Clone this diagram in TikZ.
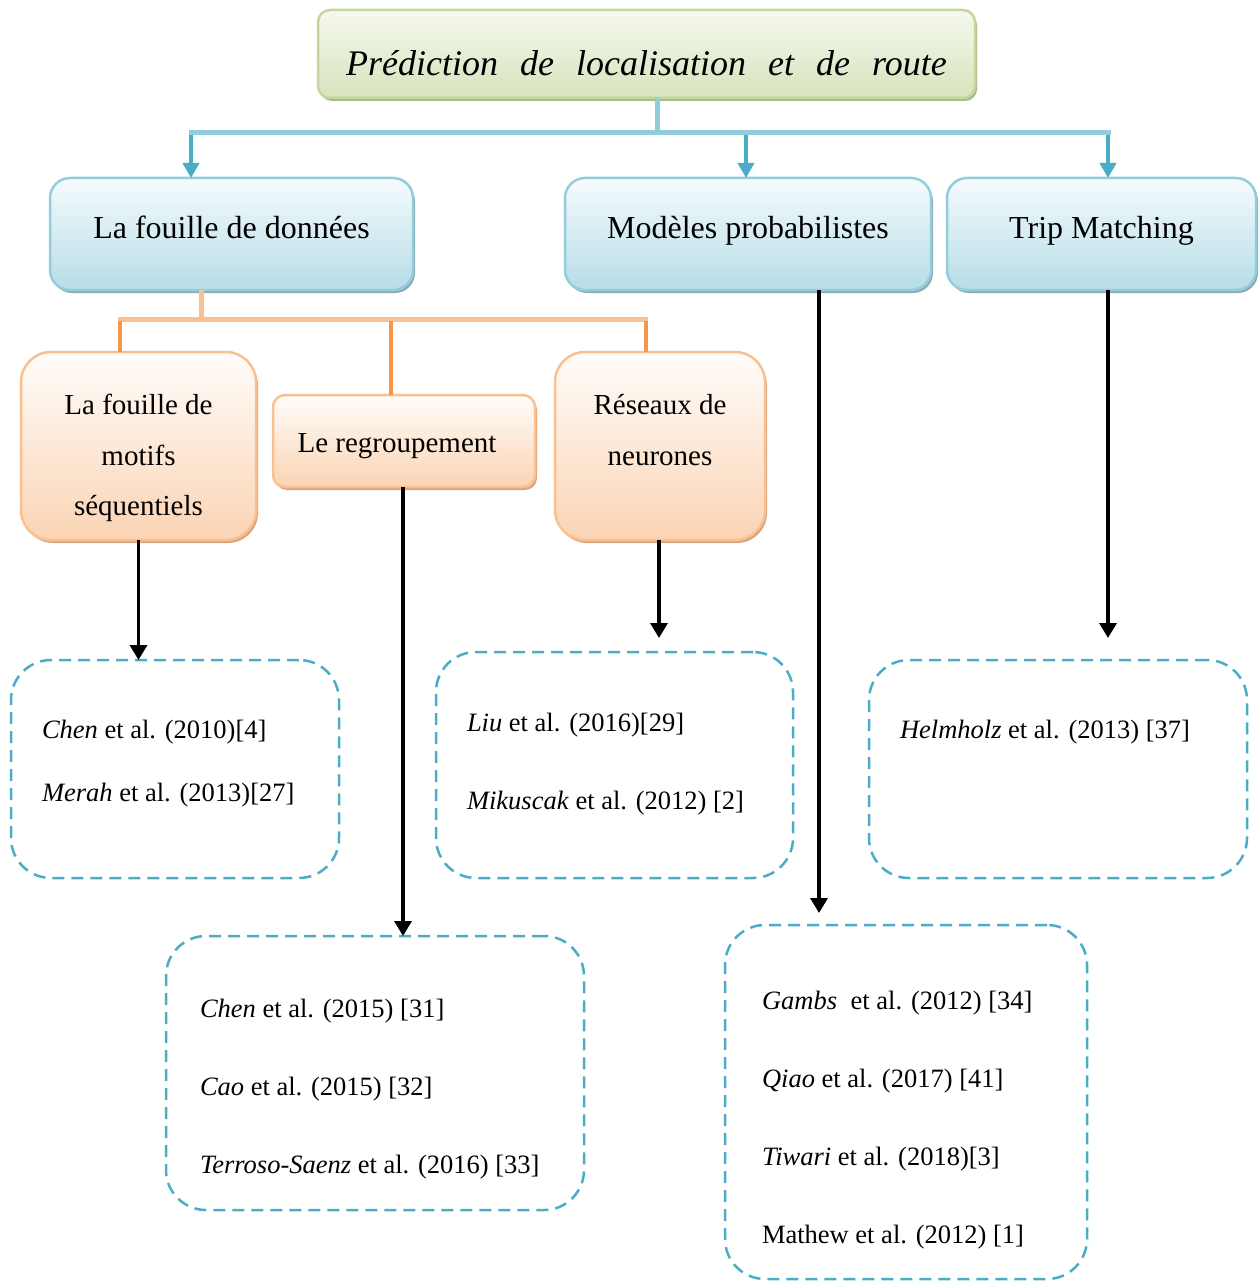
\documentclass[tikz,border=0pt]{standalone}
\usepackage{fontspec}
\setmainfont{Liberation Serif}
\usetikzlibrary{arrows.meta,shadows,calc}

\definecolor{grnline}{HTML}{C3D69B}
\definecolor{grntop}{HTML}{F6F9F0}
\definecolor{grnbot}{HTML}{D6E3BC}
\definecolor{grnshadow}{HTML}{A7B88A}
\definecolor{bluline}{HTML}{92CDDC}
\definecolor{blutop}{HTML}{F6FBFD}
\definecolor{blubot}{HTML}{B6DDE8}
\definecolor{blushadow}{HTML}{8EAAB5}
\definecolor{bludark}{HTML}{4BACC6}
\definecolor{orgline}{HTML}{FAC090}
\definecolor{orgtop}{HTML}{FFFDFB}
\definecolor{orgbot}{HTML}{FBD4B4}
\definecolor{orgshadow}{HTML}{D8A582}
\definecolor{orgdark}{HTML}{F79646}

\begin{document}
\begin{tikzpicture}[x=1pt,y=-1pt,
  every node/.style={inner sep=0pt, outer sep=0pt},
  greenbox/.style={draw=grnline, line width=2.5pt, rounded corners=12pt,
    top color=grntop, bottom color=grnbot,
    drop shadow={shadow xshift=2pt, shadow yshift=-3pt, fill=grnshadow, opacity=1}},
  bluebox/.style={draw=bluline, line width=2.5pt, rounded corners=20pt,
    top color=blutop, bottom color=blubot,
    drop shadow={shadow xshift=2pt, shadow yshift=-3pt, fill=blushadow, opacity=1}},
  orangebox/.style={draw=orgline, line width=2.5pt, rounded corners=#1,
    top color=orgtop, bottom color=orgbot,
    drop shadow={shadow xshift=2pt, shadow yshift=-3pt, fill=orgshadow, opacity=1}},
  refbox/.style={draw=bludark, line width=2.5pt, rounded corners=40pt,
    dash pattern=on 12pt off 7pt},
  titletext/.style={anchor=base, font=\fontsize{36}{40}\selectfont\itshape},
  bluetext/.style={anchor=base, font=\fontsize{32}{38}\selectfont},
  orgtext/.style={anchor=base, font=\fontsize{29}{34}\selectfont},
  reftext/.style={anchor=base west, font=\fontsize{26.5}{32}\selectfont},
  bluebar/.style={draw=bluline, line width=5pt},
  bluearrow/.style={draw=bludark, line width=4.5pt, -{Triangle[width=16pt,length=15pt]}},
  orgbar/.style={draw=orgline, line width=5pt},
  orgdrop/.style={draw=orgdark, line width=4pt},
  blackarrow/.style={draw=black, line width=3.5pt, -{Triangle[width=17pt,length=15pt]}}
]
\useasboundingbox (0,0) rectangle (1258,1281);

% ---- top level ----
\node[greenbox, minimum width=657pt, minimum height=88pt] (title) at (646.5,54) {};
\node[titletext] (titlelbl) at (646.5,76)
  {Prédiction\hspace{22pt}de\hspace{22pt}localisation\hspace{22pt}et\hspace{22pt}de\hspace{22pt}route};

% ---- second level ----
\node[bluebox, minimum width=363pt, minimum height=112pt] (b1) at (231.5,234) {};
\node[bluebox, minimum width=366pt, minimum height=112pt] (b2) at (748,234) {};
\node[bluebox, minimum width=309pt, minimum height=112pt] (b3) at (1101.5,234) {};
\node[bluetext] (b1lbl) at (231.5,239) {La fouille de données};
\node[bluetext] (b2lbl) at (748,239) {Modèles probabilistes};
\node[bluetext] (b3lbl) at (1101.5,239) {Trip Matching};

% ---- data mining branches ----
\node[orangebox=30pt, minimum width=235pt, minimum height=188pt] (o1) at (138.5,446) {};
\node[orangebox=12pt, minimum width=262pt, minimum height=92pt] (o2) at (404,441) {};
\node[orangebox=30pt, minimum width=210pt, minimum height=188pt] (o3) at (660,446) {};
\node[orgtext] (o1a) at (138.5,414) {La fouille de};
\node[orgtext] (o1b) at (138.5,465) {motifs};
\node[orgtext] (o1c) at (138.5,515) {séquentiels};
\node[orgtext] (o2a) at (397,452) {Le regroupement};
\node[orgtext] (o3a) at (660,414) {Réseaux de};
\node[orgtext] (o3b) at (660,465) {neurones};

% ---- reference boxes ----
\node[refbox, minimum width=328pt, minimum height=218pt] (d1) at (175,769) {};
\node[refbox, minimum width=357pt, minimum height=226pt] (d3) at (614.5,765) {};
\node[refbox, minimum width=378pt, minimum height=218pt] (d4) at (1058,769) {};
\node[refbox, minimum width=418pt, minimum height=274pt] (d2) at (375,1073) {};
\node[refbox, minimum width=362pt, minimum height=354pt] (d5) at (906,1102) {};

\node[reftext] (r11) at (42,738) {\textit{Chen} et al. (2010)[4]};
\node[reftext] (r12) at (42,801) {\textit{Merah} et al. (2013)[27]};
\node[reftext] (r31) at (467,731) {\textit{Liu} et al. (2016)[29]};
\node[reftext] (r32) at (467,809) {\textit{Mikuscak} et al. (2012) [2]};
\node[reftext] (r41) at (900,738) {\textit{Helmholz} et al. (2013) [37]};
\node[reftext] (r21) at (200,1017) {\textit{Chen} et al. (2015) [31]};
\node[reftext] (r22) at (200,1095) {\textit{Cao} et al. (2015) [32]};
\node[reftext] (r23) at (200,1173) {\textit{Terroso-Saenz} et al. (2016) [33]};
\node[reftext] (r51) at (762,1009) {\textit{Gambs}\hspace{7pt} et al. (2012) [34]};
\node[reftext] (r52) at (762,1087) {\textit{Qiao} et al. (2017) [41]};
\node[reftext] (r53) at (762,1165) {\textit{Tiwari} et al. (2018)[3]};
\node[reftext] (r54) at (762,1243) {Mathew et al. (2012) [1]};

% ---- blue tree connector ----
\coordinate (bstem) at (657,133);
\coordinate (bl) at (191,133);
\coordinate (bm) at (746,133);
\coordinate (br) at (1108,133);
\draw[bluebar] (title.south -| bstem) -- (bstem);
\draw[bluebar] ([xshift=-2.5pt]bl) -- ([xshift=2.5pt]br);
\draw[bluearrow] ([yshift=-2pt]bl) -- (bl |- b1.north);
\draw[bluearrow] ([yshift=-2pt]bm) -- (bm |- b2.north);
\draw[bluearrow] ([yshift=-2pt]br) -- (br |- b3.north);

% ---- orange tree connector ----
\coordinate (ostem) at (201,319);
\coordinate (ol) at (120,319);
\coordinate (om) at (391,319);
\coordinate (or) at (646,319);
\draw[orgbar] (b1.south -| ostem) -- (ostem);
\draw[orgbar] ([xshift=-2pt]ol) -- ([xshift=2pt]or);
\draw[orgdrop] ([yshift=-2pt]ol) -- (ol |- o1.north);
\draw[orgdrop] ([yshift=-2pt]om) -- (om |- o2.north);
\draw[orgdrop] ([yshift=-2pt]or) -- (or |- o3.north);

% ---- arrows to the reference boxes ----
\coordinate (t3) at (659,638);
\coordinate (t5) at (819,913);
\coordinate (t4) at (1108,638);
\draw[blackarrow] (o1.south) -- (o1.south |- d1.north);
\draw[blackarrow] ([xshift=-1pt]o2.south) -- ([xshift=-1pt]o2.south |- d2.north);
\draw[blackarrow] (o3.south -| t3) -- (t3);
\draw[blackarrow] (b2.south -| t5) -- (t5);
\draw[blackarrow] (b3.south -| t4) -- (t4);
\end{tikzpicture}
\end{document}
